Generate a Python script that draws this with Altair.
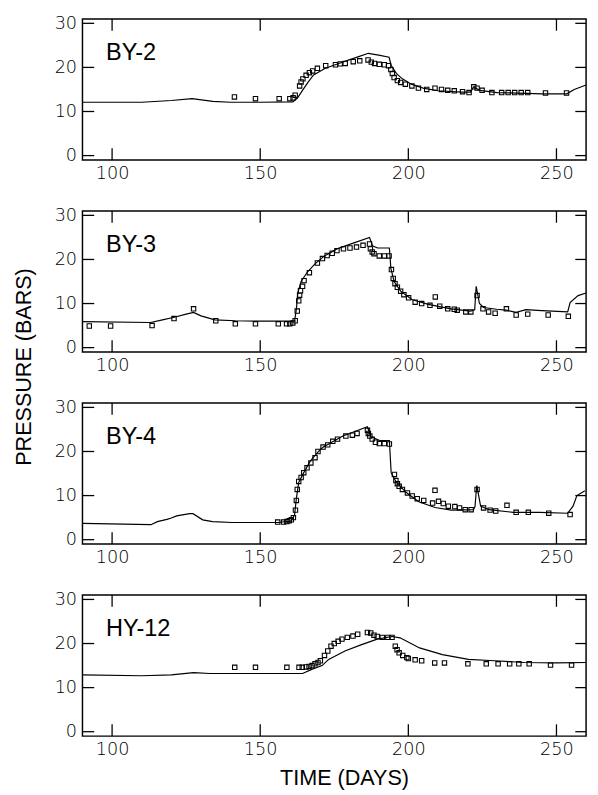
import altair as alt
import pandas as pd

X_TICKS = [100, 150, 200, 250]
Y_TICKS = [0, 10, 20, 30]
WELLS = ["BY-2", "BY-3", "BY-4", "HY-12"]

# ---------------- BY-2 ----------------
BY2_MODEL_T = [90, 110, 120, 127, 134, 140, 150, 161, 162.5, 164, 166, 168, 172, 177, 180, 183, 186.5,
               190, 193.5, 194.2, 196, 198, 201, 205, 210, 218, 221, 222, 224, 230, 240, 245, 253.5,
               256, 258, 260]
BY2_MODEL_P = [12.1, 12.1, 12.5, 12.9, 12.3, 12.1, 12.1, 12.2, 13.0, 14.5, 16.5, 18.3, 19.8, 21.0, 21.7,
               22.4, 23.2, 22.8, 22.3, 20.5, 18.6, 17.4, 16.2, 15.3, 14.7, 14.4, 14.4, 15.6, 14.8, 14.3,
               14.1, 14.0, 14.0, 15.0, 15.5, 16.0]
BY2_OBS_T = [141.3, 148.4, 156.4, 160.0, 161.1, 161.8, 163.3, 163.8, 164.4, 165.5, 166.6, 167.7, 169.3,
             172.1, 175.4, 177, 178.7, 181.4, 183.6, 186.4, 187.5, 188.6, 190.2, 191.9, 193.3, 194.1,
             194.6, 195.2, 196.3, 197.4, 199, 201.2, 203.4, 206.2, 209, 211.2, 213.3, 215.5, 218.3,
             220.5, 222.1, 223.2, 224.9, 228.2, 231.5, 233.7, 235.9, 238.1, 240.3, 246.3, 253.4]
BY2_OBS_P = [13.3, 12.9, 12.9, 12.9, 13.1, 13.7, 15.8, 16.7, 17.4, 18.2, 18.8, 19.2, 19.8, 20.4, 20.6,
             20.8, 20.9, 21.3, 21.5, 21.7, 21.2, 20.9, 20.7, 20.6, 20.4, 19.5, 18.6, 17.7, 17.0, 16.6,
             16.2, 15.8, 15.3, 15.0, 15.3, 15.0, 14.8, 14.7, 14.5, 14.3, 15.6, 15.3, 14.8, 14.3, 14.3,
             14.3, 14.3, 14.3, 14.3, 14.2, 14.2]

# ---------------- BY-3 ----------------
BY3_MODEL_T = [90, 113, 117, 121, 125, 127.5, 130, 134.7, 141.6, 150, 161.6, 162.2, 162.7, 163.8, 166,
               168.5, 171.5, 175.9, 181.4, 186.9, 187.9, 189.6, 193.6, 194.1, 195.2, 197.4, 201.2,
               206.7, 214.4, 221, 222.4, 222.9, 224, 225.4, 229.8, 233, 236.4, 239.7, 245, 253.8,
               254.6, 257.3, 260]
BY3_MODEL_P = [5.9, 5.7, 6.3, 6.9, 7.6, 8.0, 7.2, 6.3, 6.1, 6.0, 6.0, 8.7, 12.4, 15.0, 17.2, 19.0, 20.7,
               22.4, 23.7, 25.0, 23.1, 22.6, 22.6, 18.0, 15.0, 12.8, 10.9, 9.8, 8.8, 8.3, 8.6, 13.9,
               10.0, 9.1, 8.7, 8.5, 8.0, 8.6, 8.4, 8.1, 10.2, 11.8, 12.4]
BY3_OBS_T = [92.3, 99.5, 113.5, 120.9, 127.5, 135, 141.6, 148.4, 156.1, 158.9, 160, 161, 161.8, 162.5,
             163, 163.3, 163.6, 164.3, 164.8, 166.6, 169.3, 171, 172.6, 174.3, 175.9, 178.1, 180.3,
             182.5, 184.7, 186.9, 187.2, 187.8, 188.4, 190.2, 191.9, 193.5, 194.3, 194.9, 195.5,
             196.3, 197.4, 198.5, 200.1, 202.3, 204.5, 207.3, 209.1, 210.6, 213.3, 215.5, 216.5,
             219.4, 221.1, 223.2, 225.2, 227.1, 229.3, 233.1, 236.4, 240.3, 247.2, 254]
BY3_OBS_P = [4.9, 4.9, 5.0, 6.6, 8.8, 6.1, 5.4, 5.4, 5.4, 5.4, 5.4, 5.6, 6.1, 8.3, 10.6, 11.9, 12.9,
             13.9, 15.2, 17.0, 19.2, 20.2, 20.9, 21.4, 22.0, 22.4, 22.6, 22.8, 23.2, 23.5, 22.4, 21.7,
             21.3, 20.8, 20.8, 20.8, 17.7, 15.7, 14.5, 13.7, 12.8, 12.0, 11.3, 10.3, 10.0, 9.6, 11.5,
             9.4, 8.8, 8.7, 8.5, 8.1, 8.1, 11.8, 8.8, 8.1, 7.8, 8.8, 7.4, 7.6, 7.4, 7.1]

# ---------------- BY-4 ----------------
BY4_MODEL_T = [90, 113.1, 115.3, 118.5, 120, 121.8, 126.2, 127.3, 130.6, 133.9, 140.5, 155.9, 160.3,
               161.6, 162.2, 163, 164.7, 166.9, 170.2, 171.3, 177.9, 186.2, 187.3, 190.3, 193.6, 194.2,
               195.8, 199.1, 203.5, 209, 214.5, 222, 222.5, 223.1, 224.4, 227.2, 235.4, 244.3, 253.8,
               255.6, 256.9, 259.6]
BY4_MODEL_P = [3.7, 3.4, 4.1, 4.6, 4.9, 5.4, 5.9, 5.9, 4.5, 4.1, 3.9, 3.9, 4.2, 5.6, 9.3, 13.0, 15.2,
               17.8, 20.4, 21.0, 23.5, 25.6, 23.4, 22.5, 22.5, 15.2, 13.2, 10.8, 8.6, 7.3, 6.7, 6.8,
               7.5, 12.3, 7.6, 6.8, 6.2, 6.2, 6.0, 7.6, 10.0, 11.1]
BY4_OBS_T = [155.9, 157.9, 159, 159.8, 160.5, 161.2, 161.9, 162.2, 162.5, 163, 163.8, 164.7, 165.8,
             167.1, 168.5, 169.5, 171.2, 172.8, 174.5, 176.1, 178.9, 181.1, 182.7, 186.2, 186.5, 187,
             187.8, 188.9, 190.2, 191.9, 193.6, 195.3, 195.8, 196.3, 196.9, 198, 199.7, 201.3, 203,
             205.2, 208.2, 209, 210.2, 211.8, 213.5, 215.7, 217.3, 219.2, 221.2, 223.2, 225.4, 227.6,
             229.5, 233.3, 236.4, 240.5, 247.4, 254.6]
BY4_OBS_P = [4.0, 4.0, 4.1, 4.3, 4.5, 5.0, 6.7, 8.9, 11.4, 13.2, 14.1, 15.2, 16.3, 17.4, 18.6, 20.0,
             21.0, 21.5, 22.3, 22.8, 23.5, 23.7, 24.1, 24.8, 24.1, 23.5, 22.8, 22.1, 21.8, 21.8, 21.7,
             14.8, 13.4, 12.7, 12.1, 11.4, 10.6, 9.9, 9.3, 8.9, 8.3, 11.2, 8.7, 8.2, 7.6, 7.5, 7.2,
             6.8, 6.8, 11.4, 7.2, 6.7, 6.5, 7.8, 6.2, 6.2, 6.0, 5.7]

# ---------------- HY-12 ----------------
HY12_MODEL_T = [90, 110, 120, 127.5, 133, 150, 164.3, 167.6, 170.9, 173.1, 178.6, 184, 189.5, 194.5,
                197.2, 203.8, 211.5, 220.3, 229.1, 239, 250, 260]
HY12_MODEL_P = [12.9, 12.7, 12.9, 13.4, 13.2, 13.2, 13.2, 14.2, 15.0, 16.4, 18.3, 19.7, 21.0, 21.6,
                21.3, 19.0, 17.5, 16.4, 16.1, 15.7, 15.6, 15.7]
HY12_OBS_T = [141.4, 148.4, 159, 163.1, 164.2, 165.5, 166.5, 167.5, 168.5, 169.5, 170.3, 171.7, 172.8,
              173.9, 175, 176.3, 177.6, 179.4, 181.3, 182.9, 186.2, 187.3, 188.4, 189.5, 191.2, 193.1,
              194.5, 195.6, 196.2, 196.9, 198.1, 199.5, 200, 202.3, 204.5, 208.9, 212.2, 220.1,
              226.3, 230.3, 234.2, 237.3, 240.8, 248, 255.1]
HY12_OBS_P = [14.6, 14.6, 14.6, 14.6, 14.6, 14.7, 14.8, 15.0, 15.4, 15.7, 16.1, 17.3, 18.3, 19.4,
              20.0, 20.5, 21.0, 21.4, 21.7, 22.1, 22.5, 22.4, 21.9, 21.6, 21.4, 21.4, 21.4, 19.4, 18.6,
              17.9, 17.3, 16.8, 16.6, 16.3, 16.1, 15.6, 15.6, 15.4, 15.4, 15.4, 15.4, 15.4, 15.4,
              15.1, 15.1]

SERIES = [
    (BY2_MODEL_T, BY2_MODEL_P, BY2_OBS_T, BY2_OBS_P),
    (BY3_MODEL_T, BY3_MODEL_P, BY3_OBS_T, BY3_OBS_P),
    (BY4_MODEL_T, BY4_MODEL_P, BY4_OBS_T, BY4_OBS_P),
    (HY12_MODEL_T, HY12_MODEL_P, HY12_OBS_T, HY12_OBS_P),
]

W, H = 514, 144
TICK = 12


def panel(name, mt, mp, ot, op, last):
    model = pd.DataFrame({"t": mt, "p": mp})
    obs = pd.DataFrame({"t": ot, "p": op})
    xs = alt.Scale(domain=[90, 260], nice=False, zero=False)
    ys = alt.Scale(domain=[-1, 31], nice=False, zero=False)
    xaxis_kw = dict(values=X_TICKS, ticks=False, domain=False, grid=False, labelPadding=5,
                    labelFlush=False)
    if last:
        xaxis = alt.Axis(title="TIME (DAYS)", titlePadding=9, titleX=W / 2 + 10, **xaxis_kw)
    else:
        xaxis = alt.Axis(title=None, **xaxis_kw)
    yaxis = alt.Axis(values=Y_TICKS, ticks=False, domain=False, grid=False, labelPadding=6,
                     title=None, labelFlush=False)
    X = lambda: alt.X("t:Q", scale=xs, axis=xaxis)
    Y = lambda: alt.Y("p:Q", scale=ys, axis=yaxis)

    line = alt.Chart(model).mark_line(color="black", strokeWidth=1.2).encode(x=X(), y=Y())
    pts = alt.Chart(obs).mark_point(shape="square", filled=False, color="black", size=20,
                                    strokeWidth=1.1, opacity=1).encode(x=X(), y=Y())
    xt = pd.DataFrame({"t": X_TICKS})
    yt = pd.DataFrame({"p": Y_TICKS})
    rule = dict(color="black", strokeWidth=1.3)
    tb = alt.Chart(xt).mark_rule(**rule).encode(x=X(), y=alt.value(H), y2=alt.value(H - TICK))
    tt = alt.Chart(xt).mark_rule(**rule).encode(x=X(), y=alt.value(0), y2=alt.value(TICK))
    tl = alt.Chart(yt).mark_rule(**rule).encode(y=Y(), x=alt.value(0), x2=alt.value(TICK))
    tr = alt.Chart(yt).mark_rule(**rule).encode(y=Y(), x=alt.value(W), x2=alt.value(W - 11))
    lab = alt.Chart(pd.DataFrame({"name": [name]})).mark_text(
        align="left", baseline="middle", font="Liberation Sans", fontSize=24, color="black"
    ).encode(text="name:N", x=alt.value(24), y=alt.value(35))
    return alt.layer(line, pts, tb, tt, tl, tr, lab).properties(width=W, height=H)


panels = [panel(WELLS[i], *SERIES[i], last=(i == len(WELLS) - 1)) for i in range(len(WELLS))]

chart = alt.vconcat(*panels, spacing=52, bounds="flush").properties(
    title=alt.TitleParams("PRESSURE (BARS)", orient="left", anchor="middle",
                          font="Liberation Sans", fontSize=22, fontWeight="normal",
                          color="black", offset=18, dx=35),
    padding={"left": 5, "top": -3, "right": 0, "bottom": 0},
).configure_view(stroke="black", strokeWidth=1.5).configure_axis(
    labelFont="DejaVu Sans", labelFontSize=18, labelFontWeight=200, labelColor="black",
    titleFont="Liberation Sans", titleFontSize=22, titleFontWeight="normal", titleColor="black",
)

chart.save("out.html", embed_options={"renderer": "svg", "actions": False})
